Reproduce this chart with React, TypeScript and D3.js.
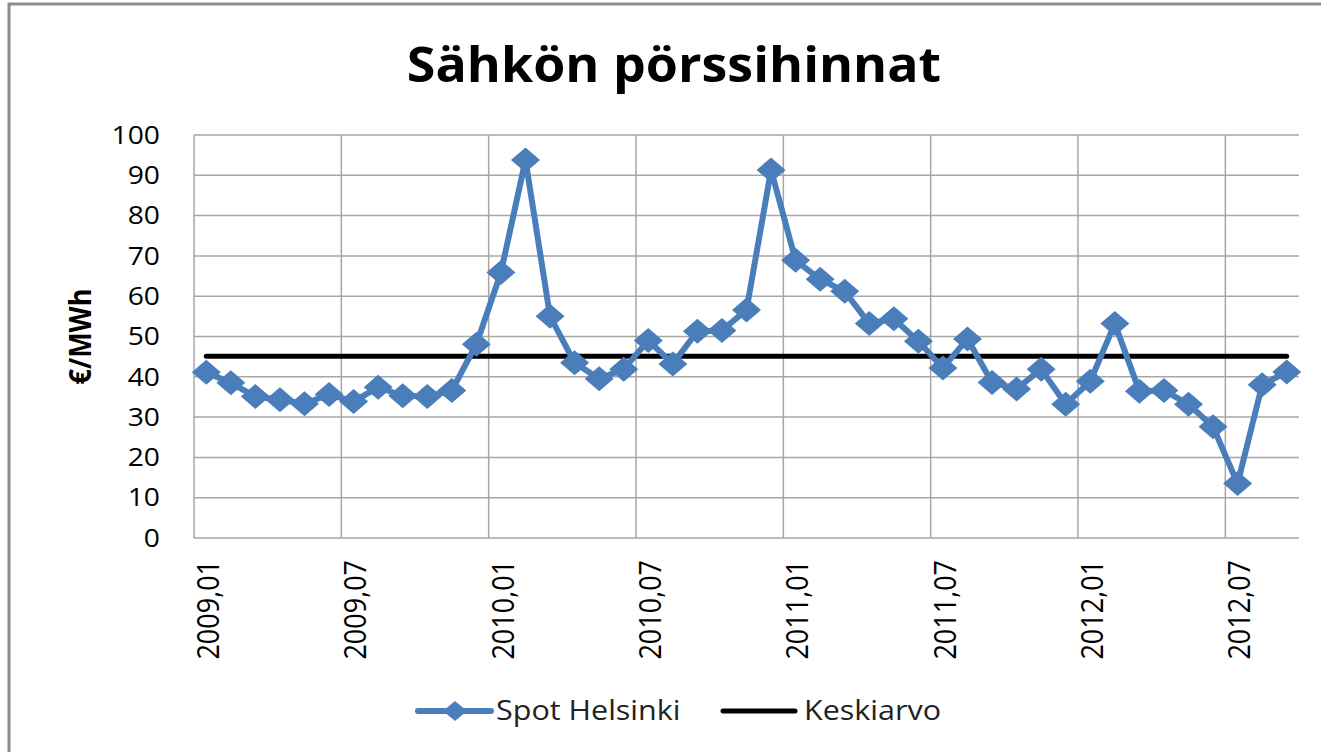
import * as d3 from 'd3'
import { useEffect } from 'react'

const months = [
  '2009,01', '2009,02', '2009,03', '2009,04', '2009,05', '2009,06', '2009,07', '2009,08', '2009,09', '2009,10', '2009,11', '2009,12',
  '2010,01', '2010,02', '2010,03', '2010,04', '2010,05', '2010,06', '2010,07', '2010,08', '2010,09', '2010,10', '2010,11', '2010,12',
  '2011,01', '2011,02', '2011,03', '2011,04', '2011,05', '2011,06', '2011,07', '2011,08', '2011,09', '2011,10', '2011,11', '2011,12',
  '2012,01', '2012,02', '2012,03', '2012,04', '2012,05', '2012,06', '2012,07', '2012,08', '2012,09',
]

const spotHelsinki = [
  41.1, 38.5, 35.1, 34.3, 33.3, 35.6, 33.9, 37.4, 35.3, 35.1, 36.6, 48.1,
  65.9, 93.8, 55.0, 43.5, 39.5, 41.9, 49.0, 43.2, 51.3, 51.5, 56.6, 91.3,
  68.9, 64.2, 61.2, 53.2, 54.4, 48.8, 42.2, 49.4, 38.6, 37.0, 41.9, 33.2,
  38.9, 53.2, 36.4, 36.6, 33.2, 27.6, 13.5, 38.0, 41.2,
]

const keskiarvo = 45.1

const yTicks = [0, 10, 20, 30, 40, 50, 60, 70, 80, 90, 100]
const xTickLabels = ['2009,01', '2009,07', '2010,01', '2010,07', '2011,01', '2011,07', '2012,01', '2012,07']

const W = 1321
const H = 752
const SX = 1.13 // the reference is stretched sideways
const FONT = '"Open Sans", "DejaVu Sans", sans-serif'
const BLUE = '#4a7ebb'
const GRID = '#a6a6a6'

const margin = { top: 135, right: 22, bottom: 214, left: 194 }

export default function App() {
  useEffect(() => {
    document.body.style.margin = '0'
    document.body.style.overflow = 'hidden'
  }, [])

  const x = d3
    .scaleBand<string>()
    .domain(months)
    .range([margin.left, W - margin.right])
    .paddingInner(0)
    .paddingOuter(0)
  const y = d3
    .scaleLinear()
    .domain([0, 100])
    .range([H - margin.bottom, margin.top])

  const cx = (m: string) => (x(m) as number) + x.bandwidth() / 2
  const data = months.map((m, i) => ({ m, v: spotHelsinki[i] }))

  const line = d3
    .line<{ m: string; v: number }>()
    .x((d) => cx(d.m))
    .y((d) => y(d.v))

  const diamond = (px: number, py: number, hw: number, hh: number) =>
    `M${px - hw},${py}L${px},${py - hh}L${px + hw},${py}L${px},${py + hh}Z`

  // vertical gridlines on band boundaries, every 6 months
  const vGrid = months.filter((_, i) => i > 0 && i % 6 === 0)

  const x0 = margin.left
  const x1 = W - margin.right
  const y0 = y(0)
  const y1 = y(100)

  return (
    <svg
      width={W}
      height={H}
      style={{ position: 'absolute', left: 0, top: 0, background: '#fff', overflow: 'hidden', display: 'block' }}
      fontFamily={FONT}
    >
      <rect x={9} y={4} width={W + 20} height={H + 20} fill="#fff" stroke="#8c8c8c" strokeWidth={3} />

      <text
        transform={`translate(674,82) scale(1.06,1)`}
        textAnchor="middle"
        fontSize={49}
        fontWeight="bold"
        fill="#000"
      >
        Sähkön pörssihinnat
      </text>

      {/* grid */}
      <g stroke={GRID} strokeWidth={1.5}>
        {yTicks.map((t) => (
          <line key={t} x1={x0} x2={x1} y1={y(t)} y2={y(t)} />
        ))}
        {vGrid.map((m) => (
          <line key={m} x1={x(m)} x2={x(m)} y1={y1} y2={y0} />
        ))}
        <line x1={x0} x2={x0} y1={y1} y2={y0} />
      </g>

      {/* y axis labels */}
      <g fontSize={25} fill="#000">
        {yTicks.map((t) => (
          <text key={t} transform={`translate(160,${y(t)}) scale(${SX},1)`} textAnchor="end" dy="0.35em">
            {t}
          </text>
        ))}
      </g>
      <text
        transform={`translate(80,${(y0 + y1) / 2}) scale(${SX},1) rotate(-90)`}
        textAnchor="middle"
        dy="0.35em"
        fontSize={27}
        fontWeight="bold"
        fill="#000"
      >
        €/MWh
      </text>

      {/* x axis labels */}
      <g fontSize={27} fill="#000">
        {xTickLabels.map((m) => (
          <text
            key={m}
            transform={`translate(${cx(m) + 2},560) scale(${SX},1) rotate(-90)`}
            textAnchor="end"
            dy="0.35em"
          >
            {m}
          </text>
        ))}
      </g>

      {/* average */}
      <line
        x1={cx(months[0])}
        x2={cx(months[months.length - 1])}
        y1={y(keskiarvo)}
        y2={y(keskiarvo)}
        stroke="#000"
        strokeWidth={5}
        strokeLinecap="round"
      />

      {/* spot series */}
      <path d={line(data) ?? ''} fill="none" stroke={BLUE} strokeWidth={6} strokeLinejoin="round" strokeLinecap="round" />
      <g fill={BLUE}>
        {data.map((d) => (
          <path key={d.m} d={diamond(cx(d.m), y(d.v), 14.5, 12.5)} />
        ))}
      </g>

      {/* legend */}
      <g>
        <line x1={418} x2={491} y1={711} y2={711} stroke={BLUE} strokeWidth={6} strokeLinecap="round" />
        <path d={diamond(455, 711, 12, 10)} fill={BLUE} />
        <text transform={`translate(496,711) scale(${SX},1)`} dy="0.35em" fontSize={27} fill="#222">
          Spot Helsinki
        </text>
        <line x1={723} x2={795} y1={711} y2={711} stroke="#000" strokeWidth={5} strokeLinecap="round" />
        <text transform={`translate(804,711) scale(${SX},1)`} dy="0.35em" fontSize={27} fill="#222">
          Keskiarvo
        </text>
      </g>
    </svg>
  )
}
